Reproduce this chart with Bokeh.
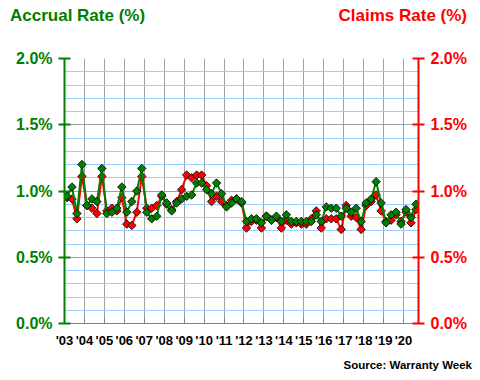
from bokeh.plotting import figure
from bokeh.models import Range1d, LinearAxis, FixedTicker, SingleIntervalTicker, ColumnDataSource, Div
from bokeh.layouts import column
from bokeh.embed import file_html
from bokeh.resources import INLINE

years = ["'03", "'04", "'05", "'06", "'07", "'08", "'09", "'10", "'11", "'12",
         "'13", "'14", "'15", "'16", "'17", "'18", "'19", "'20"]

accrual = [0.96, 1.03, 0.83, 1.20, 0.89, 0.94, 0.92, 1.17, 0.83, 0.84,
           0.87, 1.03, 0.84, 0.92, 1.00, 1.17, 0.84, 0.79, 0.81, 0.97,
           0.91, 0.85, 0.91, 0.94, 0.96, 0.97, 1.06, 1.06, 1.01, 0.98,
           1.06, 0.98, 0.88, 0.91, 0.94, 0.92, 0.77, 0.79, 0.79, 0.76,
           0.81, 0.78, 0.81, 0.77, 0.82, 0.77, 0.77, 0.77, 0.77, 0.77,
           0.82, 0.77,
           0.88, 0.87, 0.87, 0.81, 0.87, 0.84, 0.87, 0.77, 0.91, 0.94,
           1.07, 0.91, 0.76, 0.82, 0.84, 0.75, 0.86, 0.80, 0.90]

claims = [0.95, 0.94, 0.79, 1.11, 0.89, 0.87, 0.83, 1.11, 0.85, 0.87,
          0.85, 0.95, 0.75, 0.74, 0.84, 1.11, 0.87, 0.87, 0.89, 0.96,
          0.90, 0.86, 0.92, 1.01, 1.12, 1.10, 1.12, 1.12, 1.04, 0.92,
          0.96, 0.92, 0.89, 0.93, 0.94, 0.91, 0.72, 0.77, 0.78, 0.72,
          0.81, 0.78, 0.80, 0.72, 0.78, 0.75, 0.76, 0.75, 0.75, 0.79,
          0.85, 0.72,
          0.79, 0.79, 0.79, 0.71, 0.89, 0.81, 0.80, 0.71, 0.89, 0.92,
          0.97, 0.85, 0.77, 0.78, 0.82, 0.77, 0.84, 0.76, 0.86]

y_ticks = [0.0, 0.5, 1.0, 1.5, 2.0]
y_labels = ["0.0%", "0.5%", "1.0%", "1.5%", "2.0%"]

n = len(accrual)
xq = [i + 0.5 for i in range(n)]
src = ColumnDataSource(dict(x=xq, acc=accrual, clm=claims))

GREEN = "#008000"
RED = "#FF0000"
FONT = "Liberation Sans"
W = 478

top = Div(
    text=(f'<div style="position:relative;width:{W}px;height:30px;'
          f'font-family:\'{FONT}\';font-weight:bold;font-size:17px;line-height:normal;white-space:nowrap">'
          f'<span style="position:absolute;left:10px;top:6px;color:{GREEN}">Accrual Rate (%)</span>'
          f'<span style="position:absolute;right:11px;top:6px;color:{RED}">Claims Rate (%)</span>'
          '</div>'),
    width=W, height=30, margin=(0, 0, 0, 0))

bottom = Div(
    text=(f'<div style="position:relative;width:{W}px;height:26px;'
          f'font-family:\'{FONT}\';font-weight:bold;font-size:11.5px;line-height:normal;white-space:nowrap">'
          '<span style="position:absolute;right:6px;top:9px;color:black">Source: Warranty Week</span>'
          '</div>'),
    width=W, height=26, margin=(0, 0, 0, 0))

p = figure(width=W, height=320, output_backend="svg", toolbar_location=None,
           x_range=Range1d(0, 71), y_range=Range1d(0, 2),
           min_border_left=64, min_border_right=W - 418, min_border_top=28, min_border_bottom=25,
           margin=(0, 0, 0, 0))
p.extra_y_ranges = {"claims": Range1d(0, 2)}
p.outline_line_color = None
p.background_fill_color = "white"

# x axis
year_pos = [4 * k for k in range(len(years))]
p.xaxis.ticker = FixedTicker(ticks=year_pos)
p.xaxis.major_label_overrides = {pos: lab for pos, lab in zip(year_pos, years)}
p.xaxis.axis_line_color = "#808080"
p.xaxis.major_tick_line_color = "#808080"
p.xaxis.major_tick_in = 5
p.xaxis.major_tick_out = 0
p.xaxis.minor_tick_line_color = None
p.xaxis.major_label_text_font = FONT
p.xaxis.major_label_text_font_style = "bold"
p.xaxis.major_label_text_font_size = "13px"
p.xaxis.major_label_text_color = "black"
p.xaxis.major_label_standoff = 9

# grids
p.xgrid.ticker = FixedTicker(ticks=year_pos)
p.xgrid.grid_line_color = "#A0A0A0"
p.ygrid.ticker = SingleIntervalTicker(interval=0.5, num_minor_ticks=5)
p.ygrid.grid_line_color = "#A0A0A0"
p.ygrid.minor_grid_line_color = "#99CCFF"

def style_axis(ax, color):
    ax.ticker = FixedTicker(ticks=y_ticks)
    ax.major_label_overrides = {t: l for t, l in zip(y_ticks, y_labels)}
    ax.axis_line_color = color
    ax.axis_line_width = 2
    ax.major_tick_line_color = color
    ax.major_tick_line_width = 2
    ax.major_tick_in = 6
    ax.major_tick_out = 6
    ax.minor_tick_line_color = None
    ax.major_label_text_color = color
    ax.major_label_text_font = FONT
    ax.major_label_text_font_style = "bold"
    ax.major_label_text_font_size = "16px"
    ax.major_label_standoff = 6

style_axis(p.yaxis[0], GREEN)
ra = LinearAxis(y_range_name="claims")
style_axis(ra, RED)
p.add_layout(ra, "right")

# series
p.line("x", "clm", source=src, color=RED, line_width=2, y_range_name="claims")
p.scatter("x", "clm", source=src, marker="square", angle=0.785398, size=6, fill_color=RED,
          line_color="black", line_width=0.8, y_range_name="claims")
p.line("x", "acc", source=src, color=GREEN, line_width=2)
p.scatter("x", "acc", source=src, marker="square", angle=0.785398, size=6, fill_color=GREEN,
          line_color="black", line_width=0.8)

layout = column(top, p, bottom, spacing=0)
open("out.html", "w").write(file_html(layout, INLINE))
